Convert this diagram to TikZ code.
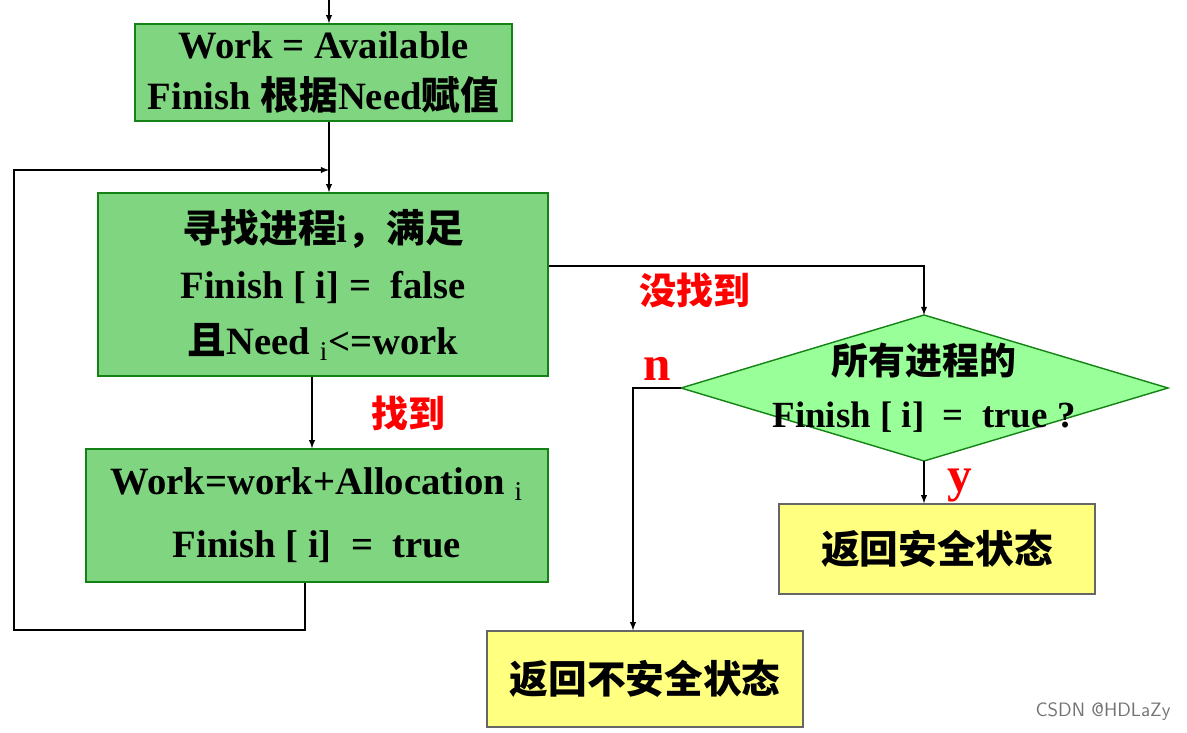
\documentclass[tikz,border=0pt]{standalone}
\usepackage{fontspec}
\setmainfont{Liberation Serif}
\newfontfamily\cjk{Noto Sans CJK SC}
\newcommand{\zh}[1]{{\cjk\bfseries #1}}
\definecolor{boxgreen}{RGB}{128,214,128}
\definecolor{edgegreen}{RGB}{20,130,20}
\definecolor{diagreen}{RGB}{153,255,153}
\definecolor{boxyellow}{RGB}{255,255,128}
\tikzset{
  greenbox/.style={draw=edgegreen, fill=boxgreen, line width=0.8pt, align=center,
    font=\fontsize{22}{29}\selectfont\bfseries},
  yellowbox/.style={draw=black!60, fill=boxyellow, line width=0.8pt, align=center,
    font=\fontsize{22}{30}\selectfont},
  arr/.style={draw, -latex, line width=0.6pt},
  lbl/.style={text=red, font=\fontsize{21}{24}\selectfont\bfseries}
}
\begin{document}
\begin{tikzpicture}
  \useasboundingbox (0,0) rectangle (23.74,14.64);
  \node [greenbox, minimum width=7.54cm, minimum height=1.94cm] (init) at (6.47,13.19)
    {Work = Available\\Finish \zh{根据}Need\zh{赋值}};
  \node [greenbox, minimum width=9.0cm, minimum height=3.66cm, font=\fontsize{22}{32}\selectfont\bfseries] (search) at (6.46,8.95)
    {\zh{寻找进程}i\zh{，满足}\\Finish [ i] = \ false\\\zh{且}Need $_{\mathrm{i}}$<=work};
  \node [greenbox, minimum width=9.24cm, minimum height=2.66cm, font=\fontsize{22}{36}\selectfont\bfseries] (update) at (6.34,4.33)
    {Work=work+Allocation $_{\mathrm{i}}$\\Finish [ i] \ = \ true};
  % decision diamond
  \coordinate (diaT) at (18.48,8.34);
  \coordinate (diaB) at (18.48,5.42);
  \coordinate (diaL) at (13.62,6.88);
  \coordinate (diaR) at (23.36,6.88);
  \draw [draw=edgegreen, fill=diagreen, line width=0.8pt] (diaT) -- (diaR) -- (diaB) -- (diaL) -- cycle;
  \node [align=center, font=\fontsize{21}{30}\selectfont\bfseries] (check) at (18.48,6.88)
    {\zh{所有进程的}\\Finish [ i] \ = \ true ?};
  \node [yellowbox, minimum width=6.32cm, minimum height=1.8cm] (safe) at (18.74,3.66)
    {\zh{返回安全状态}};
  \node [yellowbox, minimum width=6.32cm, minimum height=1.92cm] (unsafe) at (12.9,1.06)
    {\zh{返回不安全状态}};
  % connectors
  \coordinate (start) at (6.58,14.64);
  \draw [arr] (start) -- (init.north -| start);
  \draw [arr] (init.south -| start) -- (search.north -| start);
  \draw [arr] (search.south -| 6.24,0) -- (update.north -| 6.24,0);
  \draw [arr] (update.south -| 6.1,0) -- (6.1,2.04) -- (0.28,2.04) -- (0.28,11.24) -- (6.58,11.24);
  \draw [arr] (search.east |- 0,9.32) -- (diaT |- 0,9.32) -- (diaT);
  \draw [arr] (diaL) -- (12.66,6.88) -- (unsafe.north -| 12.66,0);
  \draw [arr] (diaB) -- (safe.north -| diaB);
  % labels
  \node [lbl] (notfound) at (13.9,8.84) {\zh{没找到}};
  \node [lbl] (found) at (8.16,6.38) {\zh{找到}};
  \node [lbl, font=\fontsize{28}{30}\selectfont\bfseries] (no) at (13.14,7.26) {n};
  \node [lbl, font=\fontsize{28}{30}\selectfont\bfseries] (yes) at (19.2,4.92) {y};
  \node [text=black!55, font=\fontsize{11}{13}\selectfont\sffamily] (mark) at (22.06,0.4) {CSDN @HDLaZy};
\end{tikzpicture}
\end{document}
